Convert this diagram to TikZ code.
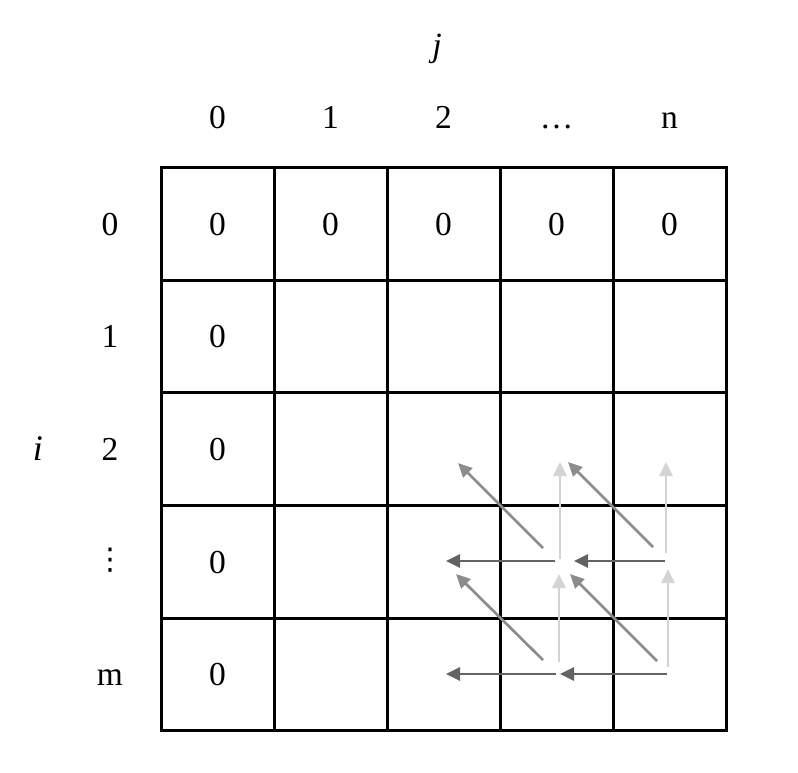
\documentclass[tikz,border=0pt]{standalone}
\usepackage{fontspec}
\setmainfont{Liberation Serif}
\newfontfamily\dvsans{DejaVu Sans}
\usetikzlibrary{arrows.meta}
\definecolor{diagc}{HTML}{8C8C8C}
\definecolor{vertc}{HTML}{D4D4D4}
\definecolor{horc}{HTML}{636363}
\begin{document}
\begin{tikzpicture}[x=1pt,y=-1pt,
  big/.style={font=\fontsize{33.5}{38}\selectfont, inner sep=0pt, text height=22.5pt, text depth=0pt},
  cell/.style={big, draw, line width=3pt, minimum width=113pt, minimum height=112.6pt},
  arr/.style={line width=2.7pt, -{Triangle[length=14pt,width=13pt]}},
  diagarr/.style={arr, draw=diagc},
  vertarr/.style={arr, draw=vertc},
  horarr/.style={arr, draw=horc}]
\useasboundingbox (0,0) rectangle (798,772);
% grid cells
\foreach \c/\x in {0/217.5,1/330.5,2/443.5,3/556.5,4/669.5}{
  \foreach \r/\y in {0/224,1/336.6,2/449.2,3/561.8,4/674.4}{
    \node[cell] (c\r\c) at (\x,\y) {};
  }
}
% zeros
\foreach \c in {0,1,2,3,4}{ \node[big] at (c0\c) {0}; }
\foreach \r in {1,2,3,4}{ \node[big] at (c\r0) {0}; }
% headers
\node[big, font=\fontsize{34}{38}\itshape] (jl) at (437,45) {j};
\node[big] (h0) at (217.5,117) {0};
\node[big] (h1) at (330.5,117) {1};
\node[big] (h2) at (443.5,117) {2};
\node[big] (h3) at (556.5,117) {…};
\node[big] (h4) at (669.5,117) {n};
\node[big, font=\fontsize{36}{40}\itshape] (il) at (38,449) {i};
\node[big] (r0) at (110,224) {0};
\node[big] (r1) at (110,336.6) {1};
\node[big] (r2) at (110,449.2) {2};
\node[inner sep=0pt, font=\fontsize{30}{36}\dvsans] (r3) at (110,560) {⋮};
\node[big] (r4) at (110,674.4) {m};
% arrow end points
\coordinate (d1a) at (543,548); \coordinate (d1b) at (458,463);
\coordinate (v1a) at (560,559); \coordinate (v1b) at (560,462);
\coordinate (h1a) at (555,561); \coordinate (h1b) at (446,561);
\coordinate (d2a) at (653,547); \coordinate (d2b) at (568,462);
\coordinate (v2a) at (666,553); \coordinate (v2b) at (666,462);
\coordinate (h2a) at (665,561); \coordinate (h2b) at (574,561);
\coordinate (d3a) at (543,660); \coordinate (d3b) at (456,574);
\coordinate (v3a) at (559,662); \coordinate (v3b) at (559,574);
\coordinate (h3a) at (556,674); \coordinate (h3b) at (446,674);
\coordinate (d4a) at (657,661); \coordinate (d4b) at (570,574);
\coordinate (v4a) at (668,667); \coordinate (v4b) at (668,569);
\coordinate (h4a) at (667,674); \coordinate (h4b) at (560,674);
% arrows
\foreach \k in {1,2,3,4}{ \draw[vertarr] (v\k a) -- (v\k b); }
\foreach \k in {1,2,3,4}{ \draw[diagarr] (d\k a) -- (d\k b); }
\foreach \k in {1,2,3,4}{ \draw[horarr] (h\k a) -- (h\k b); }
\end{tikzpicture}
\end{document}
